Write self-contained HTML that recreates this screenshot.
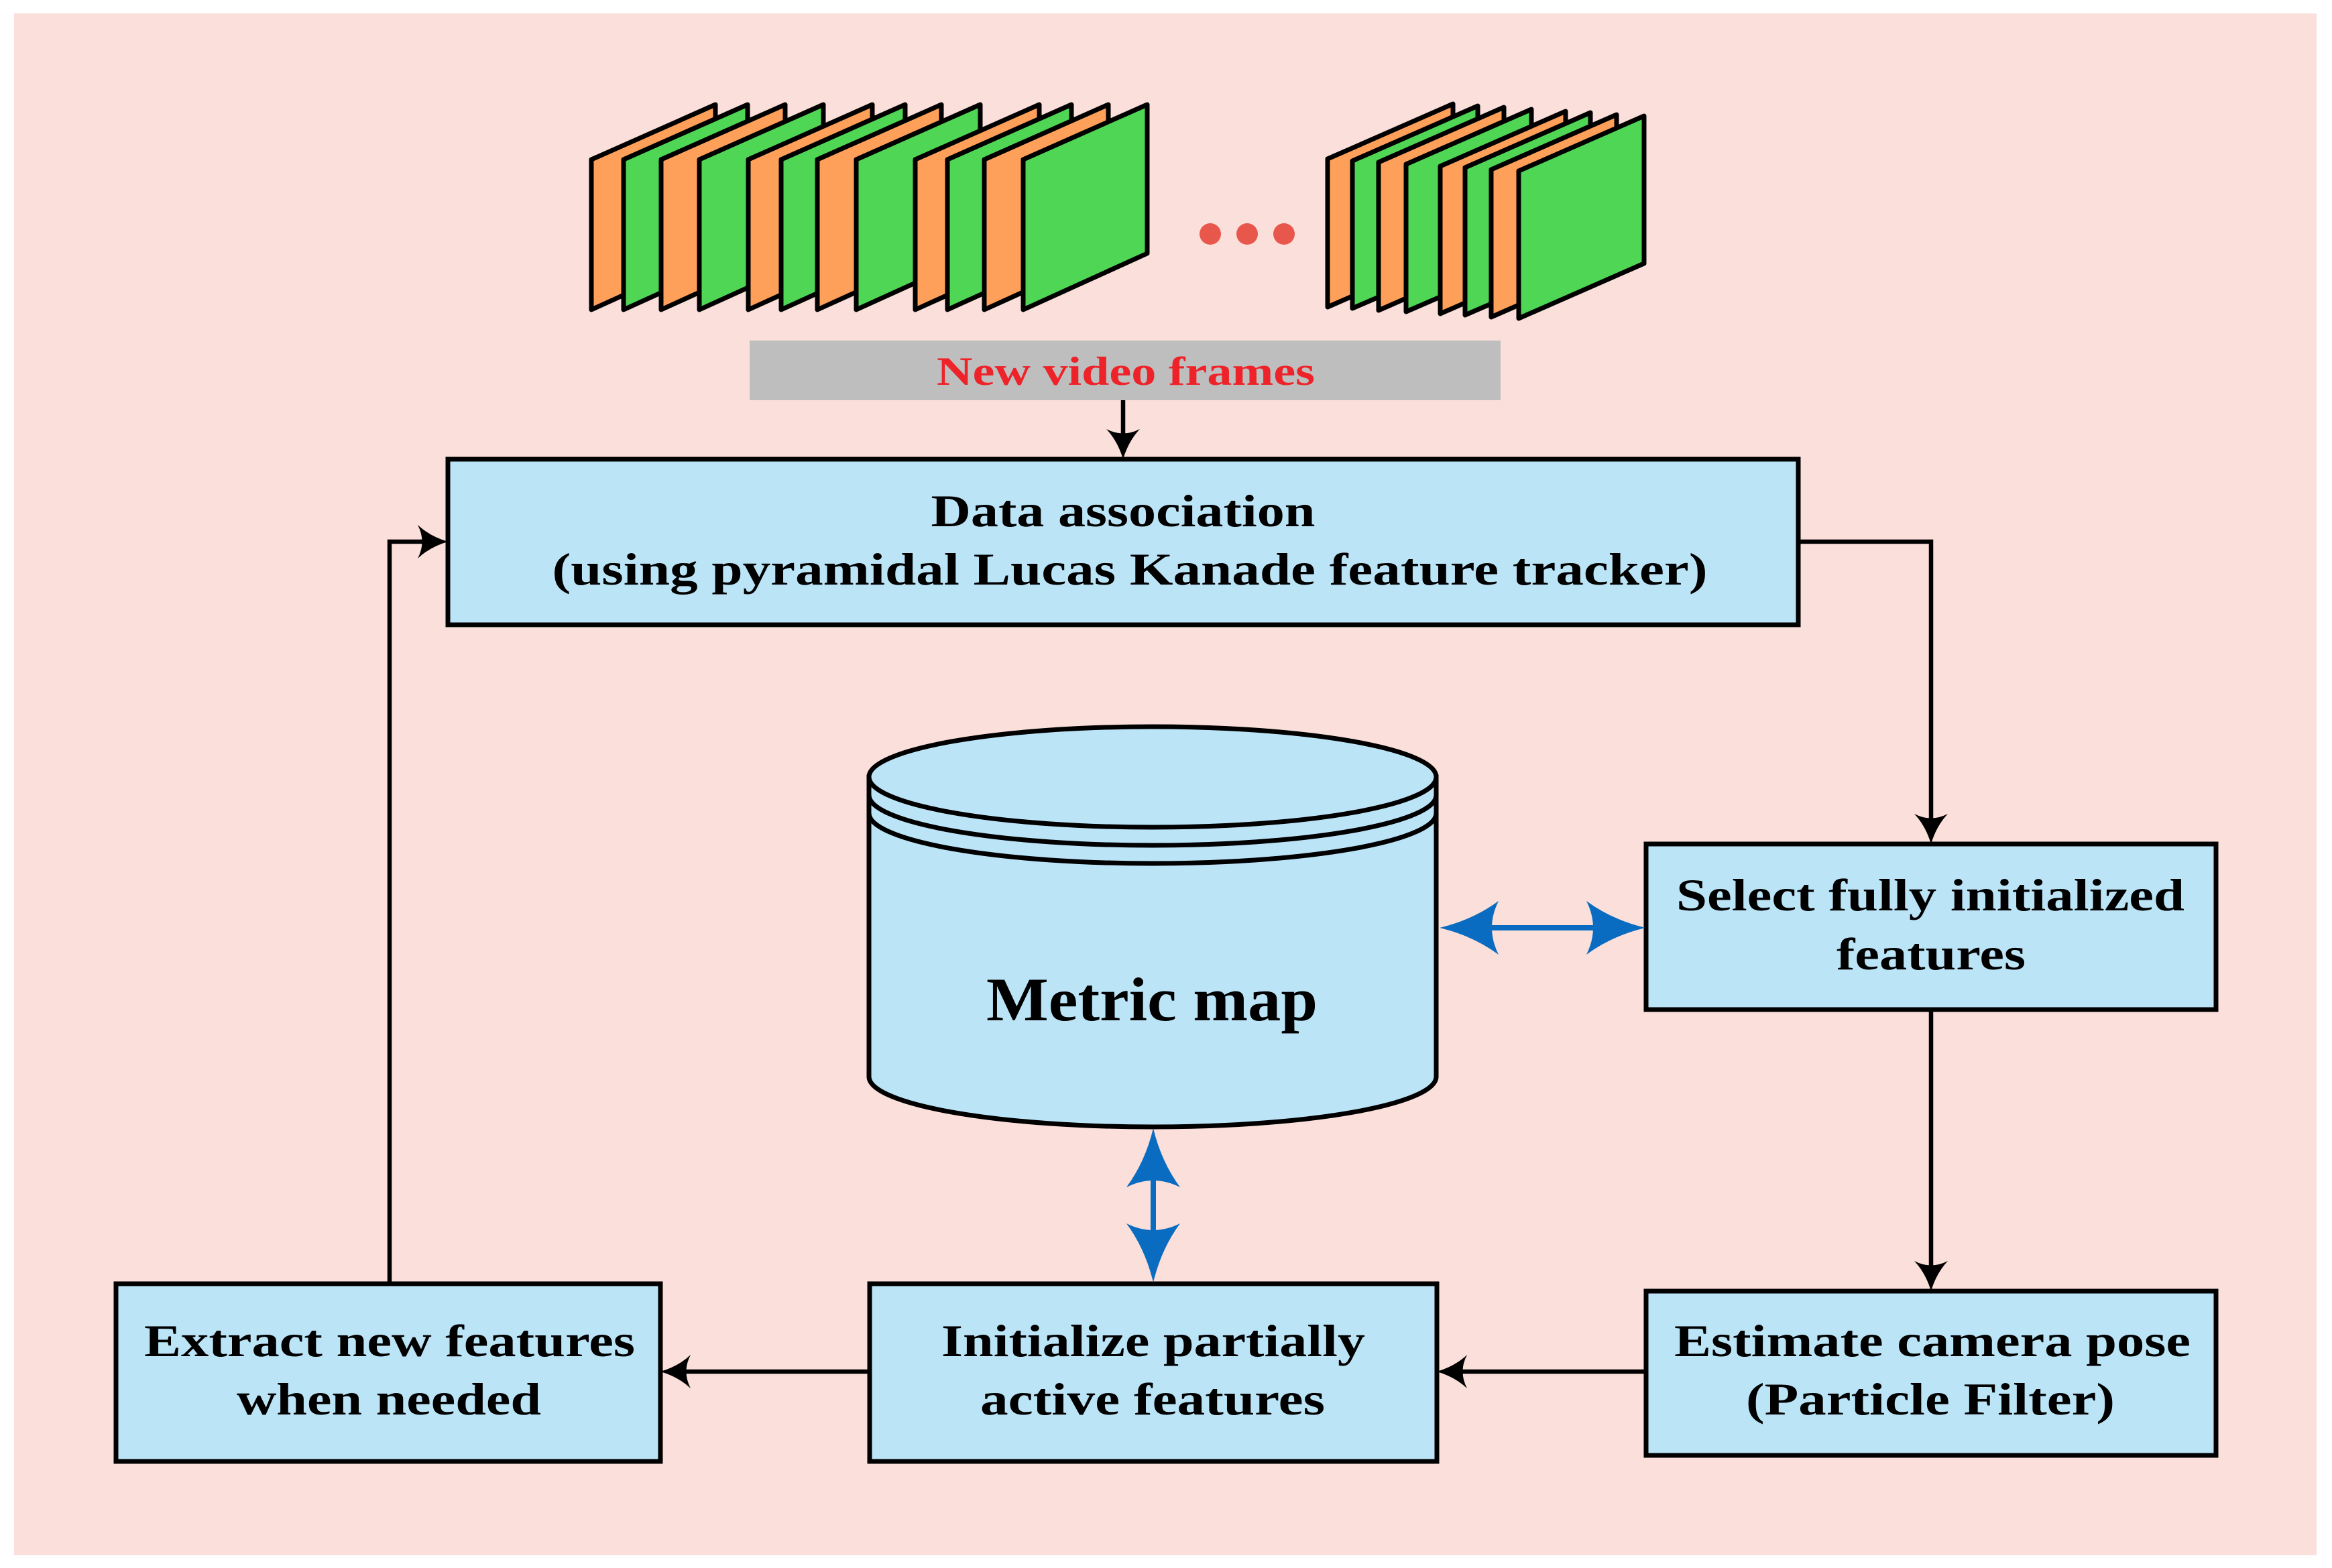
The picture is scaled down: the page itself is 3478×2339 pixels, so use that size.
<!DOCTYPE html>
<html><head><meta charset="utf-8"><style>html,body{margin:0;padding:0;background:#fff}svg{display:block}</style></head>
<body>
<svg xmlns="http://www.w3.org/2000/svg" width="3478" height="2339" viewBox="0 0 3478 2339">
<defs>
<path id="ah" d="M0,0 Q-27,-8 -45,-25 Q-32,0 -45,25 Q-27,8 0,0 Z" fill="#000"/>
<path id="bh" d="M0,0 Q-50,-12 -88,-40 Q-68,0 -88,40 Q-50,12 0,0 Z" fill="#0A6CC0"/>
</defs>
<rect x="0" y="0" width="3478" height="2339" fill="#fff"/>
<rect x="21" y="20" width="3434" height="2300" fill="#FADFDA"/>

<g stroke="#000" stroke-width="7" stroke-linejoin="round">
<polygon points="882,238 1067,156 1067,378 882,462" fill="#FFA05A"/>
<polygon points="930,238 1115,156 1115,378 930,462" fill="#50D655"/>
<polygon points="986,238 1171,156 1171,378 986,462" fill="#FFA05A"/>
<polygon points="1043,238 1228,156 1228,378 1043,462" fill="#50D655"/>
<polygon points="1116,238 1301,156 1301,378 1116,462" fill="#FFA05A"/>
<polygon points="1165,238 1350,156 1350,378 1165,462" fill="#50D655"/>
<polygon points="1219,238 1404,156 1404,378 1219,462" fill="#FFA05A"/>
<polygon points="1277,238 1462,156 1462,378 1277,462" fill="#50D655"/>
<polygon points="1365,238 1550,156 1550,378 1365,462" fill="#FFA05A"/>
<polygon points="1413,238 1598,156 1598,378 1413,462" fill="#50D655"/>
<polygon points="1468,238 1653,156 1653,378 1468,462" fill="#FFA05A"/>
<polygon points="1526,238 1711,156 1711,378 1526,462" fill="#50D655"/>
</g>
<g fill="#E8574B">
<circle cx="1805" cy="349" r="16"/><circle cx="1860" cy="349" r="16"/><circle cx="1915" cy="349" r="16"/>
</g>
<g stroke="#000" stroke-width="7" stroke-linejoin="round">
<polygon points="1980,237 2167,155 2167,376 1980,458" fill="#FFA05A"/>
<polygon points="2017,240 2204,158 2204,379 2017,460" fill="#50D655"/>
<polygon points="2056,242 2243,160 2243,381 2056,463" fill="#FFA05A"/>
<polygon points="2097,245 2284,163 2284,384 2097,465" fill="#50D655"/>
<polygon points="2148,248 2335,166 2335,386 2148,468" fill="#FFA05A"/>
<polygon points="2185,250 2372,168 2372,389 2185,470" fill="#50D655"/>
<polygon points="2224,253 2411,171 2411,391 2224,473" fill="#FFA05A"/>
<polygon points="2265,255 2452,173 2452,393 2265,475" fill="#50D655"/>
</g>

<rect x="1118" y="508" width="1120" height="89" fill="#BEBEBE"/>
<text x="1679" y="574" font-family="Liberation Serif, serif" font-weight="bold" font-size="60" fill="#EE2229" text-anchor="middle" textLength="564" lengthAdjust="spacingAndGlyphs">New video frames</text>

<g stroke="#000" stroke-width="6.5" fill="none">
<line x1="1675" y1="597" x2="1675" y2="670"/>
<polyline points="2682,808 2880,808 2880,1240"/>
<line x1="2880" y1="1505" x2="2880" y2="1905"/>
<line x1="2455" y1="2046" x2="2160" y2="2046"/>
<line x1="1297" y1="2046" x2="1000" y2="2046"/>
<polyline points="581,1915 581,808 650,808"/>
</g>
<use href="#ah" transform="translate(1675,685) rotate(90)"/>
<use href="#ah" transform="translate(2880,1259) rotate(90)"/>
<use href="#ah" transform="translate(2880,1926) rotate(90)"/>
<use href="#ah" transform="translate(2143,2046) rotate(180)"/>
<use href="#ah" transform="translate(985,2046) rotate(180)"/>
<use href="#ah" transform="translate(668,808)"/>

<g fill="#BBE4F7" stroke="#000" stroke-width="7">
<rect x="668" y="685" width="2014" height="247"/>
<rect x="2455" y="1259" width="850" height="247"/>
<rect x="2455" y="1926" width="850" height="245"/>
<rect x="1297" y="1915" width="846" height="265"/>
<rect x="173" y="1915" width="812" height="265"/>
</g>

<g stroke="#000" stroke-width="7" fill="#BBE4F7">
<path d="M1296,1159 L1296,1606 A423,75 0 0 0 2142,1606 L2142,1159 Z"/>
<ellipse cx="1719" cy="1159" rx="423" ry="75"/>
<path d="M1296,1186 A423,75 0 0 0 2142,1186" fill="none"/>
<path d="M1296,1213 A423,75 0 0 0 2142,1213" fill="none"/>
</g>

<g stroke="#0A6CC0" stroke-width="8">
<line x1="2180" y1="1384" x2="2420" y2="1384"/>
<line x1="1720" y1="1715" x2="1720" y2="1880"/>
</g>
<use href="#bh" transform="translate(2147,1384) rotate(180)"/>
<use href="#bh" transform="translate(2454,1384)"/>
<use href="#bh" transform="translate(1720,1683) rotate(-90)"/>
<use href="#bh" transform="translate(1720,1913) rotate(90)"/>

<g font-family="Liberation Serif, serif" font-weight="bold" font-size="68" fill="#000" text-anchor="middle">
<text x="1675" y="785" textLength="573" lengthAdjust="spacingAndGlyphs">Data association</text>
<text x="1685" y="872" textLength="1723" lengthAdjust="spacingAndGlyphs">(using pyramidal Lucas Kanade feature tracker)</text>
<text x="2879" y="1358" textLength="758" lengthAdjust="spacingAndGlyphs">Select fully initialized</text>
<text x="2880" y="1446" textLength="282" lengthAdjust="spacingAndGlyphs">features</text>
<text x="1720" y="2023" textLength="632" lengthAdjust="spacingAndGlyphs">Initialize partially</text>
<text x="1719" y="2110" textLength="514" lengthAdjust="spacingAndGlyphs">active features</text>
<text x="581" y="2023" textLength="732" lengthAdjust="spacingAndGlyphs">Extract new features</text>
<text x="580" y="2110" textLength="454" lengthAdjust="spacingAndGlyphs">when needed</text>
<text x="2882" y="2023" textLength="770" lengthAdjust="spacingAndGlyphs">Estimate camera pose</text>
<text x="2879" y="2110" textLength="550" lengthAdjust="spacingAndGlyphs">(Particle Filter)</text>
<text x="1718" y="1522" font-size="92" textLength="494" lengthAdjust="spacingAndGlyphs">Metric map</text>
</g>
</svg>
</body></html>
